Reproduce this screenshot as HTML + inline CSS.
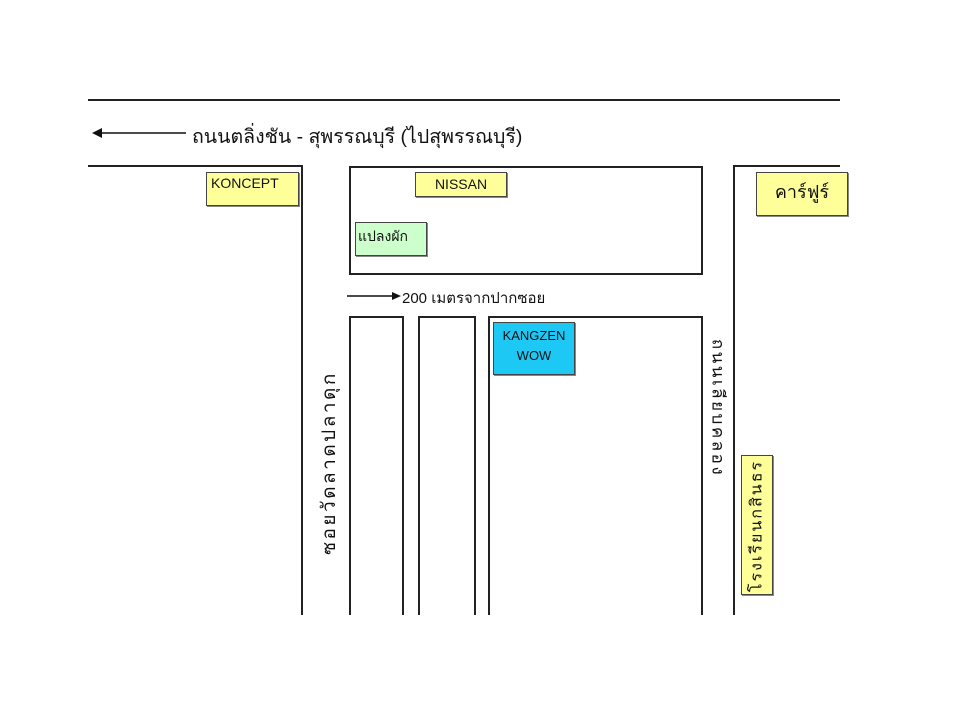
<!DOCTYPE html>
<html><head><meta charset="utf-8"><style>
body{margin:0;background:#fff;width:960px;height:720px;position:relative;overflow:hidden;font-family:"Liberation Sans","Noto Sans CJK SC",sans-serif;}
.a{position:absolute;box-sizing:border-box;}
.ln{position:absolute;background:#222;}
.box{position:absolute;box-sizing:border-box;border:1.5px solid #444;box-shadow:1px 1px 0 #888;font-size:14px;color:#111;line-height:1;}
.y{background:#ffff99;}
.t{position:absolute;white-space:nowrap;color:#111;}
</style></head><body>
<div class="ln" style="left:88px;top:99px;width:752px;height:2px"></div>
<svg class="a" style="left:90px;top:125px" width="100" height="16"><line x1="6" y1="8" x2="96" y2="8" stroke="#111" stroke-width="1.5"/><polygon points="2,8 12,3 12,13" fill="#111"/></svg>
<div class="t" style="left:192px;top:121px;font-size:19.5px">ถนนตลิ่งชัน - สุพรรณบุรี (ไปสุพรรณบุรี)</div>
<!-- left block -->
<div class="ln" style="left:88px;top:165px;width:215px;height:2px"></div>
<div class="ln" style="left:301px;top:165px;width:2px;height:450px"></div>
<div class="box y" style="left:206px;top:172px;width:93px;height:34px;padding:3px 0 0 4px">KONCEPT</div>
<!-- top middle -->
<div class="a" style="left:349px;top:166px;width:354px;height:109px;border:2px solid #222"></div>
<div class="box y" style="left:415px;top:172px;width:92px;height:25px;text-align:center;padding-top:4px">NISSAN</div>
<div class="box" style="left:355px;top:222px;width:72px;height:34px;background:#ccffcc;padding:6px 0 0 2px">แปลงผัก</div>
<svg class="a" style="left:345px;top:289px" width="58" height="14"><line x1="2" y1="7" x2="52" y2="7" stroke="#111" stroke-width="1.5"/><polygon points="56,7 47,3 47,11" fill="#111"/></svg>
<div class="t" style="left:402px;top:286px;font-size:15px">200 เมตรจากปากซอย</div>
<!-- lower blocks -->
<div class="a" style="left:349px;top:316px;width:55px;height:310px;border:2px solid #222"></div>
<div class="a" style="left:418px;top:316px;width:58px;height:310px;border:2px solid #222"></div>
<div class="a" style="left:488px;top:316px;width:215px;height:310px;border:2px solid #222"></div>
<div class="box" style="left:493px;top:322px;width:82px;height:53px;background:#1ec8f5;text-align:center;font-size:13px;padding-top:3px;line-height:20px">KANGZEN<br>WOW</div>
<div class="t" style="left:329px;top:463px;font-size:19px;letter-spacing:2.5px;transform:translate(-50%,-50%) rotate(-90deg)">ซอยวัดลาดปลาดุก</div>
<!-- right -->
<div class="ln" style="left:733px;top:165px;width:107px;height:2px"></div>
<div class="ln" style="left:733px;top:165px;width:2px;height:450px"></div>
<div class="box y" style="left:756px;top:172px;width:92px;height:44px;font-size:18px;text-align:center;padding-top:10px">คาร์ฟูร์</div>
<div class="t" style="left:718px;top:408px;font-size:17px;letter-spacing:2.5px;transform:translate(-50%,-50%) rotate(90deg)">ถนนเลียบคลอง</div>
<div class="box y" style="left:741px;top:455px;width:32px;height:140px"></div>
<div class="t" style="left:757px;top:526px;font-size:16px;letter-spacing:2px;transform:translate(-50%,-50%) rotate(-90deg)">โรงเรียนกสินธร</div>
<div class="a" style="left:0;top:615px;width:960px;height:105px;background:#fff"></div>
</body></html>
